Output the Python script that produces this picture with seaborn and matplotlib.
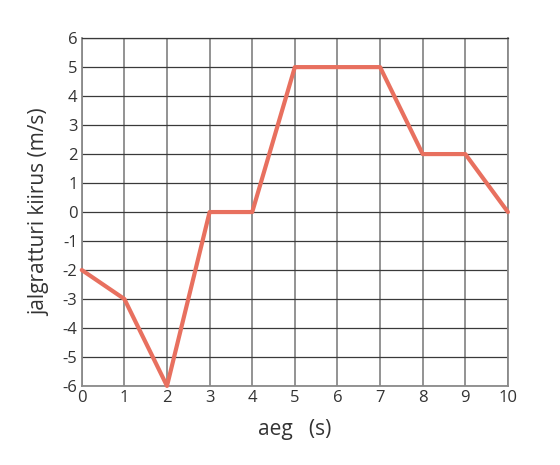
import seaborn as sns
import matplotlib.pyplot as plt
import pandas as pd

# time (s) and bike speed (m/s)
aeg = [0, 1, 2, 3, 4, 5, 6, 7, 8, 9, 10]
kiirus = [-2, -3, -6, 0, 0, 5, 5, 5, 2, 2, 0]
x_ticks = list(range(0, 11))
y_ticks = list(range(-6, 7))

df = pd.DataFrame({'aeg': aeg, 'kiirus': kiirus})

sns.set_theme(style='white')
plt.rcParams['font.family'] = ['Open Sans', 'DejaVu Sans']
plt.rcParams['axes.unicode_minus'] = False

fig = plt.figure(figsize=(5.6, 4.65), dpi=100)
ax = fig.add_axes([0.146, 0.170, 0.761, 0.748])

# grid: vertical lines grey, horizontal ones dark
for x in x_ticks:
    ax.axvline(x, color='#8a8a8a', lw=1.3, zorder=1)
for y in y_ticks:
    ax.axhline(y, color='#3a3a3a', lw=0.9, zorder=1)

sns.lineplot(data=df, x='aeg', y='kiirus', ax=ax, color='#e8705f', lw=3.0,
             zorder=3, clip_on=False)

ax.set_xlim(0, 10)
ax.set_ylim(-6, 6)
ax.set_xticks(x_ticks)
ax.set_yticks(y_ticks)
ax.set_xticklabels([str(v) for v in x_ticks], fontsize=12, color='#333333')
ax.set_yticklabels([str(v) for v in y_ticks], fontsize=12, color='#333333')
ax.tick_params(length=0, pad=3)
for s in ax.spines.values():
    s.set_color('#8a8a8a')
    s.set_linewidth(1.3)
ax.spines['top'].set_color('#3a3a3a')
ax.spines['top'].set_linewidth(0.9)

ax.set_xlabel('aeg   (s)', fontsize=15, color='#333333', labelpad=9)
ax.set_ylabel('jalgratturi kiirus (m/s)', fontsize=15, color='#333333', labelpad=9)

plt.savefig('out.png', dpi=100)
